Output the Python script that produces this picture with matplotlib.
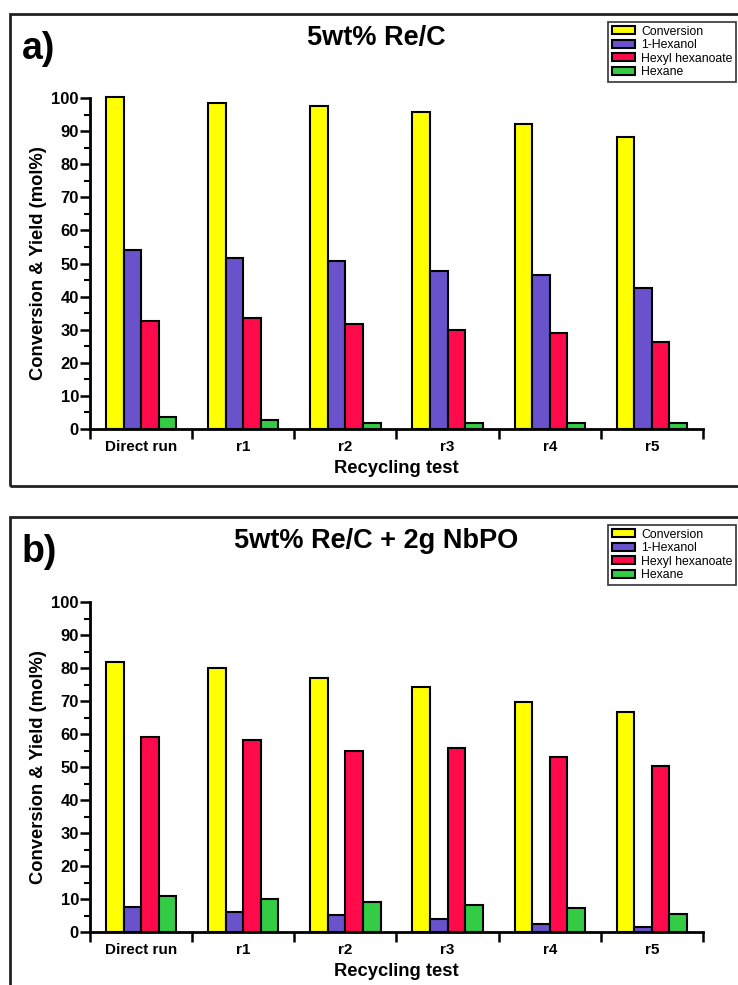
import numpy as np
import matplotlib.pyplot as plt
from matplotlib.patches import Rectangle

plt.rcParams['font.family'] = ['Liberation Sans', 'DejaVu Sans']

# Data
cats    = ["Direct run", "r1", "r2", "r3", "r4", "r5"]
series  = ["Conversion", "1-Hexanol", "Hexyl hexanoate", "Hexane"]
colors  = ["#FFFF00", "#6A52CC", "#FF0A4B", "#33CC44"]

convA   = [100.4, 98.5, 97.5, 95.7, 92.0, 88.2]
hexolA  = [54.2, 51.7, 50.8, 47.8, 46.4, 42.6]
esterA  = [32.6, 33.4, 31.8, 30.0, 29.1, 26.4]
hexA    = [3.6, 2.7, 1.8, 1.8, 1.8, 1.8]

convB   = [81.8, 79.9, 77.0, 74.3, 69.7, 66.8]
hexolB  = [7.5, 6.0, 5.1, 4.0, 2.5, 1.5]
esterB  = [59.2, 58.2, 54.8, 55.7, 53.0, 50.3]
hexB    = [10.8, 9.9, 9.0, 8.1, 7.2, 5.4]

panels = [
    ("a)", "5wt% Re/C", [convA, hexolA, esterA, hexA]),
    ("b)", "5wt% Re/C + 2g NbPO", [convB, hexolB, esterB, hexB]),
]

W, H = 738, 985
fig = plt.figure(figsize=(W/100, H/100), dpi=100)

# panel frames (px: top, bottom)
frames = [(14, 486), (517, 990)]
axBox  = [(98, 429), (602, 932)]

def fx(px): return px / W
def fy(py): return 1 - py / H

x = np.arange(len(cats))
bw = 0.172

for (lab, title, vals), (ft, fb), (at, ab) in zip(panels, frames, axBox):
    fig.patches.append(Rectangle((fx(10), fy(fb)), fx(760) - fx(10), fy(ft) - fy(fb),
                                 transform=fig.transFigure, fill=False,
                                 edgecolor="#222222", linewidth=2))
    ax = fig.add_axes([fx(90), fy(ab), fx(703) - fx(90), fy(at) - fy(ab)])
    for i, (name, v) in enumerate(zip(series, vals)):
        ax.bar(x + (i - 1.5) * bw, v, bw, color=colors[i], edgecolor="black",
               linewidth=1.5, label=name, clip_on=False, zorder=3)
    ax.set_xlim(-0.5, len(cats) - 0.5)
    ax.set_ylim(0, 100)
    ax.set_yticks(np.arange(0, 101, 10))
    ax.set_yticks(np.arange(5, 100, 10), minor=True)
    ax.set_xticks(np.arange(-0.5, len(cats), 1))
    ax.set_xticklabels([])
    ax.set_xticks(x, minor=True)
    ax.set_xticklabels(cats, minor=True, fontsize=11, fontweight="bold")
    ax.tick_params(axis="x", which="major", direction="out", length=7, width=1.8)
    ax.tick_params(axis="x", which="minor", length=0, pad=8)
    ax.tick_params(axis="y", which="major", direction="out", length=7, width=1.8,
                   labelsize=12, pad=1)
    ax.tick_params(axis="y", which="minor", direction="out", length=4, width=1.5)
    for t in ax.get_yticklabels():
        t.set_fontweight("bold")
    for s in ["top", "right"]:
        ax.spines[s].set_visible(False)
    for s in ["left", "bottom"]:
        ax.spines[s].set_linewidth(2)
    ax.set_ylabel("Conversion & Yield (mol%)", fontsize=13.2, fontweight="bold", labelpad=3)
    ax.set_xlabel("Recycling test", fontsize=13.2, fontweight="bold", labelpad=4)

    fig.text(fx(22), fy(ft + 35), lab, fontsize=27, fontweight="bold", va="center")
    fig.text(fx(376), fy(ft + 24), title, fontsize=19.5, fontweight="bold",
             ha="center", va="center")
    leg = ax.legend(loc="upper right", bbox_to_anchor=(fx(736), fy(ft + 8)),
                    bbox_transform=fig.transFigure, fontsize=8.8, frameon=True,
                    fancybox=False, edgecolor="black", handlelength=1.9,
                    handleheight=0.6, handletextpad=0.5, labelspacing=0.12,
                    borderpad=0.3, borderaxespad=0)
    leg.get_frame().set_linewidth(1.2)

fig.savefig("out.png", dpi=100)
